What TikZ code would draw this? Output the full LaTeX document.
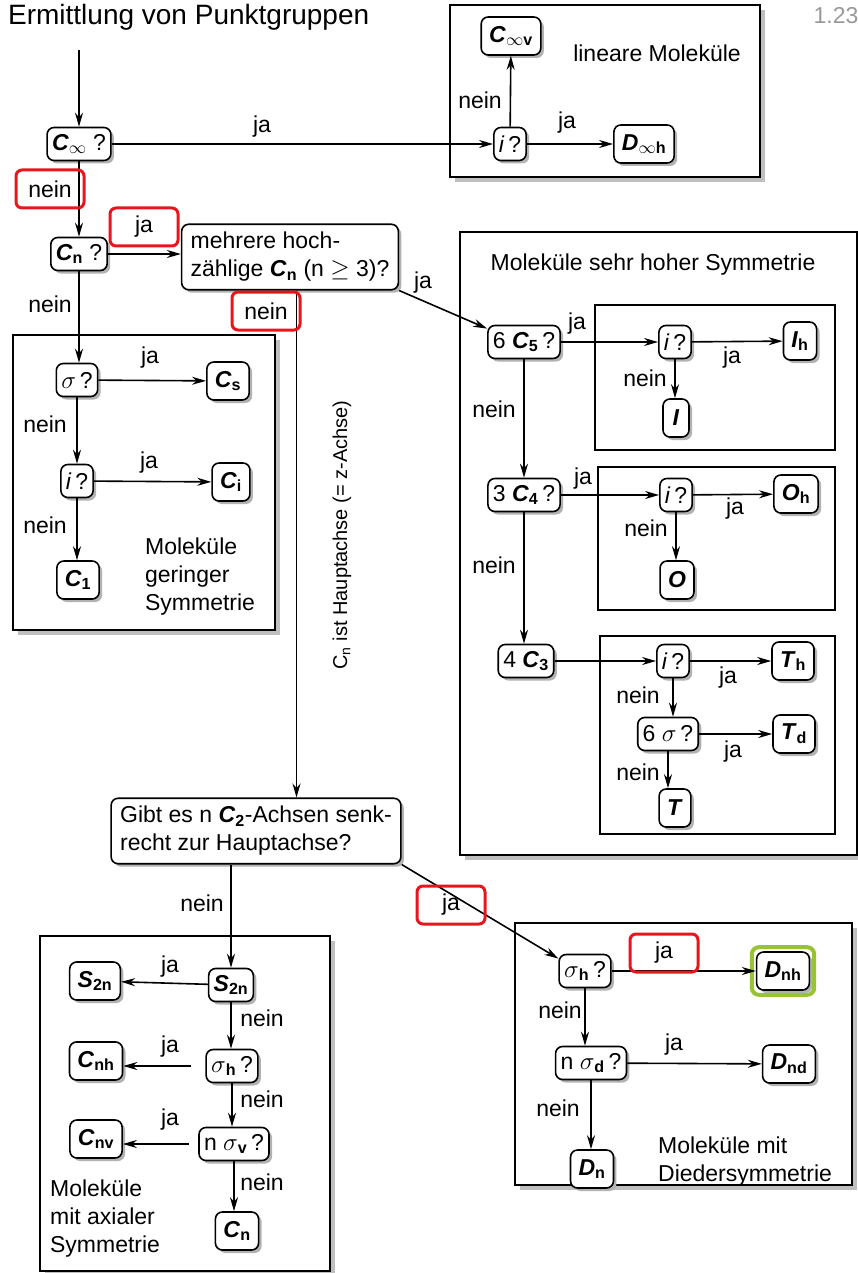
\documentclass[tikz,border=0pt]{standalone}
\usepackage{fontspec}
\setmainfont{Liberation Sans}
\usetikzlibrary{arrows.meta,fit}
\definecolor{hlred}{RGB}{232,22,28}
\definecolor{hlgreen}{RGB}{152,196,52}
\newcommand{\grp}[2]{\textbf{\textit{#1}}\textsubscript{\textbf{#2}}}

\begin{document}
\begin{tikzpicture}[x=1pt,y=-1pt,line width=1.6pt,>={Stealth[length=14pt,width=8pt]},
	font=\fontsize{23}{28}\selectfont]
	\tikzstyle{qbox}=[draw,rounded corners=7pt,fill=white,inner xsep=5pt,inner ysep=2pt,minimum height=33pt,
		preaction={fill=black!30,transform canvas={shift={(3pt,-3pt)}}}];
	\tikzstyle{rbox}=[qbox,inner xsep=8pt,minimum height=38pt,minimum width=26pt];
	\tikzstyle{frame}=[draw,fill=white,preaction={fill=black!25,transform canvas={shift={(5pt,-5pt)}}}];
	\tikzstyle{lbl}=[inner sep=1pt];
	\tikzstyle{hl}=[draw=hlred,line width=3pt,rounded corners=6pt,minimum width=68pt,minimum height=38pt];
	\useasboundingbox (0,0) rectangle (858,1273);
	% frames
	\draw[frame] (450,5) rectangle (760,177);
	\draw[frame] (13,335) rectangle (275,630);
	\draw[frame] (460,232) rectangle (857,855);
	\draw (595,305) rectangle (835,450);
	\draw (598,467) rectangle (835,610);
	\draw (600,636) rectangle (835,834);
	\draw[frame] (40,936) rectangle (330,1271);
	\draw[frame] (515,923) rectangle (852,1185);
	% title
	\node[anchor=west,font=\fontsize{28}{32}\selectfont] (title) at (4,17) {Ermittlung von Punktgruppen};
	\node[text=black!40] (pagenr) at (836,16) {1.23};
	\coordinate (start) at (79,50);
	% linear
	\node[qbox] (cinf) at (79,144) {\grp{C}{$\infty$}\ ?};
	\node[rbox] (cinfv) at (511,36) {\grp{C}{$\infty$v}};
	\node[qbox] (ilin) at (510,144) {\textit{i}\,?};
	\node[rbox] (dinfh) at (644,144) {\grp{D}{$\infty$h}};
	\node (lintxt) at (657,53) {lineare Moleküle};
	\node[qbox] (cn) at (79,254) {\grp{C}{n}\ ?};
	\node[qbox,inner xsep=9pt,inner ysep=8pt,align=left] (mehr) at (290,257) {mehrere hoch-\\zählige \grp{C}{n} (n $\geq$ 3)?};
	% low symmetry
	\node[qbox] (sig) at (77,380) {$\sigma$\,?};
	\node[rbox] (cs) at (228,381) {\grp{C}{s}};
	\node[qbox] (ilow) at (77,481) {\textit{i}\,?};
	\node[rbox] (ci) at (231,482) {\grp{C}{i}};
	\node[rbox] (c1) at (78,580) {\grp{C}{1}};
	\node[anchor=west,align=left] (lowtxt) at (141,577) {Moleküle\\geringer\\Symmetrie};
	% very high symmetry
	\node (hightxt) at (653,265) {Moleküle sehr hoher Symmetrie};
	\node[qbox] (c5) at (524,342) {6 \grp{C}{5}\,?};
	\node[qbox] (ione) at (675,342) {\textit{i}\,?};
	\node[rbox] (ih) at (800,341) {\grp{I}{h}};
	\node[rbox] (ico) at (676,418) {\textbf{\textit{I}}};
	\node[qbox] (c4) at (524,495) {3 \grp{C}{4}\,?};
	\node[qbox] (itwo) at (676,495) {\textit{i}\,?};
	\node[rbox] (oh) at (796,494) {\grp{O}{h}};
	\node[rbox] (oct) at (677,580) {\textbf{\textit{O}}};
	\node[qbox] (c3) at (526,661) {4 \grp{C}{3}};
	\node[qbox] (ithree) at (673,661) {\textit{i}\,?};
	\node[rbox] (th) at (793,661) {\grp{T}{h}};
	\node[qbox] (sixsig) at (668,734) {6 $\sigma$\,?};
	\node[rbox] (td) at (794,734) {\grp{T}{d}};
	\node[rbox] (tet) at (675,808) {\textbf{\textit{T}}};
	% main axis
	\node[qbox,inner xsep=9pt,inner ysep=8pt,align=left] (gibt) at (256,831) {Gibt es n \grp{C}{2}-Achsen senk-\\recht zur Hauptachse?};
	\node[rotate=90,font=\fontsize{20}{24}\selectfont] (axis) at (342,535) {C\textsubscript{n} ist Hauptachse (= z-Achse)};
	% axial symmetry
	\node[qbox] (s2nq) at (231,985) {\grp{S}{2n}};
	\node[rbox] (s2n) at (95,981) {\grp{S}{2n}};
	\node[qbox] (shq) at (232,1066) {$\sigma$\textsubscript{\textbf{h}}\,?};
	\node[rbox] (cnh) at (96,1061) {\grp{C}{nh}};
	\node[qbox] (svq) at (234,1144) {n $\sigma$\textsubscript{\textbf{v}}\,?};
	\node[rbox] (cnv) at (96,1139) {\grp{C}{nv}};
	\node[rbox] (cnax) at (237,1231) {\grp{C}{n}};
	\node[anchor=west,align=left] (axtxt) at (46,1219) {Moleküle\\mit axialer\\Symmetrie};
	% dihedral symmetry
	\node[qbox] (sh) at (585,971) {$\sigma$\textsubscript{\textbf{h}}\,?};
	\node[rbox] (dnh) at (783,971) {\grp{D}{nh}};
	\node[draw=hlgreen,line width=4pt,rounded corners=7pt,inner sep=4pt,fit=(dnh)] (dnhmark) {};
	\node[qbox] (sd) at (591,1063) {n $\sigma$\textsubscript{\textbf{d}}\,?};
	\node[rbox] (dnd) at (789,1064) {\grp{D}{nd}};
	\node[rbox] (dn) at (592,1169) {\grp{D}{n}};
	\node[anchor=west,align=left] (dtxt) at (654,1162) {Moleküle mit\\Diedersymmetrie};
	% connectors
	\draw[->] (start) -- (cinf);
	\draw[->] (cinf) -- (ilin);
	\draw[->] (ilin) -- (cinfv);
	\draw[->] (ilin) -- (dinfh);
	\draw[->] (cinf) -- (cn);
	\draw[->] (cn.east) -- (mehr.west |- cn.east);
	\draw[->] (mehr.281) -- (mehr.281 |- gibt.north);
	\draw[->] (mehr.south east) -- (c5.160);
	\draw[->] (cn) -- (cn |- sig.north);
	\draw[->] (sig) -- (cs);
	\draw[->] (sig) -- (ilow);
	\draw[->] (ilow) -- (ci);
	\draw[->] (ilow) -- (ilow |- c1.north);
	\draw[->] (c5) -- (ione);
	\draw[->] (ione) -- (ih);
	\draw[->] (ione) -- (ione |- ico.north);
	\draw[->] (c5) -- (c5 |- c4.north);
	\draw[->] (c4) -- (itwo);
	\draw[->] (itwo) -- (oh);
	\draw[->] (itwo) -- (itwo |- oct.north);
	\draw[->] (c4) -- (c4 |- c3.north);
	\draw[->] (c3) -- (ithree);
	\draw[->] (ithree) -- (th);
	\draw[->] (ithree) -- (ithree |- sixsig.north);
	\draw[->] (sixsig) -- (sixsig -| td.west);
	\draw[->] (sixsig) -- (sixsig |- tet.north);
	\draw[->] (s2nq.north |- gibt.south) -- (s2nq);
	\draw[->] (gibt.south east) -- (sh.155);
	\draw[->] (s2nq) -- (s2n);
	\draw[->] (s2nq) -- (s2nq |- shq.north);
	\draw[->,shorten <=14pt] (shq.west) -- (cnh.east |- shq.west);
	\draw[->] (shq) -- (shq |- svq.north);
	\draw[->,shorten <=9pt] (svq.west) -- (cnv.east |- svq.west);
	\draw[->] (svq) -- (svq |- cnax.north);
	\draw[->] (sh) -- (dnh);
	\draw[->] (sh) -- (sh |- sd.north);
	\draw[->] (sd) -- (dnd);
	\draw[->] (sd) -- (sd |- dn.north);
	% labels
	\node[lbl] (l1) at (262,127) {ja};
	\node[lbl] (l2) at (480,100) {nein};
	\node[lbl] (l3) at (567,123) {ja};
	\node[hl] (l4) at (50,189) {nein};
	\node[hl] (l5) at (144,227) {ja};
	\node[lbl] (l6) at (50,304) {nein};
	\node[hl] (l7) at (266,311) {nein};
	\node[lbl] (l8) at (423,283) {ja};
	\node[lbl] (l9) at (150,358) {ja};
	\node[lbl] (l10) at (45,424) {nein};
	\node[lbl] (l11) at (149,463) {ja};
	\node[lbl] (l12) at (45,525) {nein};
	\node[lbl] (l13) at (577,324) {ja};
	\node[lbl] (l14) at (732,358) {ja};
	\node[lbl] (l15) at (645,378) {nein};
	\node[lbl] (l16) at (494,409) {nein};
	\node[lbl] (l17) at (583,479) {ja};
	\node[lbl] (l18) at (735,509) {ja};
	\node[lbl] (l19) at (646,528) {nein};
	\node[lbl] (l20) at (494,565) {nein};
	\node[lbl] (l21) at (728,678) {ja};
	\node[lbl] (l22) at (638,695) {nein};
	\node[lbl] (l23) at (733,752) {ja};
	\node[lbl] (l24) at (638,772) {nein};
	\node[lbl] (l25) at (202,903) {nein};
	\node[lbl] (l26) at (170,967) {ja};
	\node[lbl] (l27) at (262,1018) {nein};
	\node[lbl] (l28) at (170,1047) {ja};
	\node[lbl] (l29) at (262,1099) {nein};
	\node[lbl] (l30) at (170,1120) {ja};
	\node[lbl] (l31) at (262,1182) {nein};
	\node[hl] (l32) at (451,905) {ja};
	\node[lbl] (l33) at (560,1010) {nein};
	\node[hl] (l34) at (664,953) {ja};
	\node[lbl] (l35) at (674,1045) {ja};
	\node[lbl] (l36) at (558,1108) {nein};
\end{tikzpicture}
\end{document}
